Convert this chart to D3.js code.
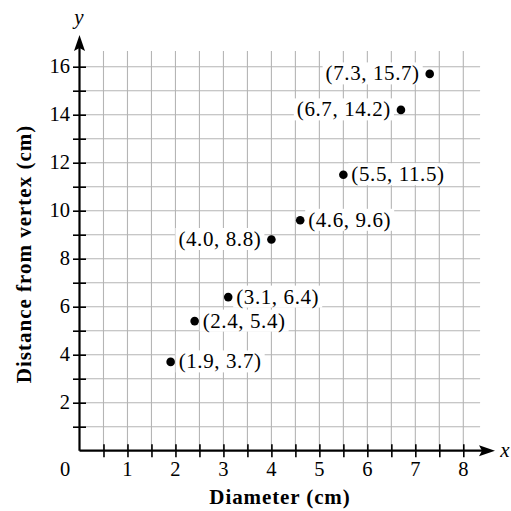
<!DOCTYPE html>
<html><head><meta charset="utf-8">
<script src="https://cdn.jsdelivr.net/npm/d3@7"></script>
<style>
html,body{margin:0;padding:0;background:#fff;}
svg{display:block;font-family:"Liberation Serif","Times New Roman",serif;}
</style></head>
<body>
<svg id="c" width="511" height="511"></svg>
<script>
const diameters = [1.9, 2.4, 3.1, 4.0, 4.6, 5.5, 6.7, 7.3];
const distances = [3.7, 5.4, 6.4, 8.8, 9.6, 11.5, 14.2, 15.7];
const xTickLabels = [1, 2, 3, 4, 5, 6, 7, 8];
const yTickLabels = [2, 4, 6, 8, 10, 12, 14, 16];
const xMinorTicks = d3.range(1, 17).map(d => d / 2);
const yMinorTicks = d3.range(1, 17);
const leftLabelIdx = [3, 6, 7];

const svg = d3.select("#c");
const x = d3.scaleLinear().domain([0, 8]).range([79.5, 463.3]);
const y = d3.scaleLinear().domain([0, 16]).range([450.7, 66.7]);
const xEnd = 8.35, yEnd = 16.65;

// grid
const g = svg.append("g");
g.selectAll(".vg").data(xMinorTicks).join("line")
  .attr("x1", d => x(d)).attr("x2", d => x(d))
  .attr("y1", y(0)).attr("y2", y(yEnd))
  .attr("stroke", "#b5b5b5").attr("stroke-width", 1.1);
g.selectAll(".hg").data(yMinorTicks).join("line")
  .attr("x1", x(0)).attr("x2", x(xEnd))
  .attr("y1", d => y(d)).attr("y2", d => y(d))
  .attr("stroke", "#b5b5b5").attr("stroke-width", 1.1);

// axes via d3 axis
const xAxis = d3.axisBottom(x).tickValues(xMinorTicks).tickSize(6.5).tickFormat("");
const xa = svg.append("g").attr("transform", `translate(0,${y(0)})`).call(xAxis);
xa.select(".domain").remove();
xa.selectAll(".tick line").attr("stroke", "#000").attr("stroke-width", 1.6).attr("y1", -6.5);

const yAxis = d3.axisLeft(y).tickValues(yMinorTicks).tickSize(6.5).tickFormat("");
const ya = svg.append("g").attr("transform", `translate(${x(0)},0)`).call(yAxis);
ya.select(".domain").remove();
ya.selectAll(".tick line").attr("stroke", "#000").attr("stroke-width", 1.6).attr("x1", 6.5);

// axis lines
svg.append("line").attr("x1", x(0)).attr("x2", 484).attr("y1", y(0)).attr("y2", y(0))
  .attr("stroke", "#000").attr("stroke-width", 2.2);
svg.append("line").attr("x1", x(0)).attr("x2", x(0)).attr("y1", y(0)).attr("y2", 46)
  .attr("stroke", "#000").attr("stroke-width", 2.2);
// arrowheads
svg.append("path").attr("d", `M495,${y(0)} L479,${y(0)-5.5} L482,${y(0)} L479,${y(0)+5.5} Z`).attr("fill", "#000");
svg.append("path").attr("d", `M${x(0)},35 L${x(0)-5.5},51 L${x(0)},48 L${x(0)+5.5},51 Z`).attr("fill", "#000");

// tick labels
svg.selectAll(".xl").data(xTickLabels).join("text")
  .attr("x", d => x(d)).attr("y", 475.5).attr("text-anchor", "middle")
  .attr("font-size", 20.5).text(d => d);
svg.append("text").attr("x", 65).attr("y", 475.5).attr("text-anchor", "middle").attr("font-size", 20.5).text("0");
svg.selectAll(".yl").data(yTickLabels).join("text")
  .attr("x", 70).attr("y", d => y(d) + 6.5).attr("text-anchor", "end")
  .attr("font-size", 20.5).text(d => d);

// axis letters
svg.append("text").attr("x", 505).attr("y", 457).attr("font-size", 21).attr("font-style", "italic").attr("text-anchor", "middle").text("x");
svg.append("text").attr("x", 79).attr("y", 24).attr("font-size", 21).attr("font-style", "italic").attr("text-anchor", "middle").text("y");

// titles
svg.append("text").attr("x", 280).attr("y", 504).attr("text-anchor", "middle")
  .attr("font-size", 21).attr("letter-spacing", 0.9).attr("font-weight", "bold").text("Diameter (cm)");
svg.append("text").attr("transform", "translate(31,254) rotate(-90)").attr("text-anchor", "middle")
  .attr("font-size", 21).attr("letter-spacing", 1).attr("font-weight", "bold").text("Distance from vertex (cm)");

// points
const pts = diameters.map((d, i) => ({x: d, y: distances[i], left: leftLabelIdx.includes(i)}));
const lg = svg.append("g");
pts.forEach(p => {
  const cx = x(p.x), cy = y(p.y);
  const t = lg.append("text").attr("font-size", 21).attr("letter-spacing", 0.6)
    .attr("y", cy + 6.5)
    .text(`(${p.x.toFixed(1)}, ${p.y.toFixed(1)})`);
  if (p.left) t.attr("x", cx - 10).attr("text-anchor", "end");
  else t.attr("x", cx + 8).attr("text-anchor", "start");
  const bb = t.node().getBBox();
  lg.insert("rect", () => t.node())
    .attr("x", bb.x - 3).attr("y", cy - 11.5).attr("width", bb.width + 6).attr("height", 22)
    .attr("fill", "#fff");
});
svg.selectAll(".pt").data(pts).join("circle")
  .attr("cx", d => x(d.x)).attr("cy", d => y(d.y)).attr("r", 4.3).attr("fill", "#000");
</script>
</body></html>
